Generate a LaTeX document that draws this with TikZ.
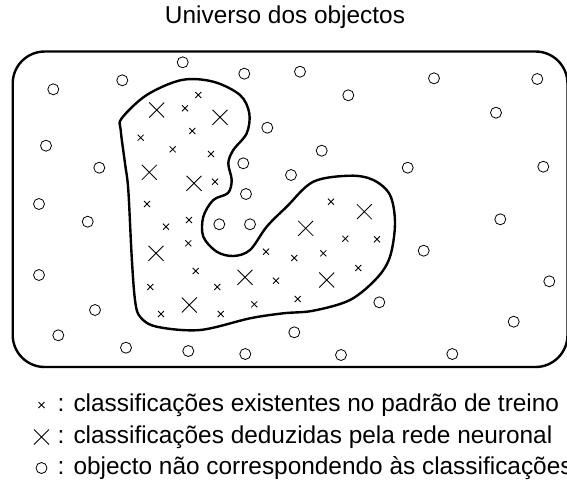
\documentclass[tikz,border=0pt]{standalone}
\usepackage{fontspec}
\setmainfont{Liberation Sans}
\usetikzlibrary{positioning}
\tikzset{every picture/.style={
  line join=round                % Smooth joins on the outlines.
  }
}

\begin{document}
\begin{tikzpicture}[
    x=1pt,y=-1pt,
    universe/.style={
      draw,
      line width=2.4pt,
      rounded corners=32pt
    },
    region/.style={
      draw,
      line width=2.4pt
    },
    objmk/.style={draw,line width=0.8pt},
    crossmk/.style={draw,line width=0.8pt},
    lbl/.style={
      font=\fontsize{24.4}{28}\selectfont,
      inner sep=0pt
    }]

    % Helper macros.
    \def\objmark#1{ \draw[objmk] (#1) circle (5.5pt) }
    \def\trainmark#1{ \draw[crossmk] (#1) +(-3pt,-3pt) -- +(3pt,3pt)
        +(-3pt,3pt) -- +(3pt,-3pt) }
    \def\netmark#1{ \draw[crossmk] (#1) +(-7.5pt,-7.5pt) -- +(7.5pt,7.5pt)
        +(-7.5pt,7.5pt) -- +(7.5pt,-7.5pt) }

    \useasboundingbox (0,0) rectangle (567,493);

    % Draw the universe of objects.
    \node[lbl] (title) at (285,17) {Universo dos objectos};
    \draw[universe] (12.7,51.5) rectangle (567.5,367);

    % Draw the region of the classifications.
    \draw[region] plot[smooth cycle,tension=0.55] coordinates {
      (121.7,118.3) (146.7,95) (181.7,80) (213.3,81.7) (240,95)
      (249.3,113.3) (246.7,133.3) (233.3,150) (228.3,163.3) (231.7,180)
      (228,193) (213.3,200) (203.3,216.7) (203.3,236.7) (216.7,251.7)
      (233.3,256) (250,250) (266.7,226.7) (286.7,206.7) (313.3,181.7)
      (350,175.7) (373.3,180) (390,195) (395,223.3) (390,256.7)
      (376.7,278.3) (350,300) (313.3,310.7) (283.3,313.3) (250,318.3)
      (200,330) (156.7,326.7) (140,316.7) (135,300) (131.7,256.7)
      (128.3,190) (125,163.3) (120.7,130)};

    % Objects outside the classifications.
    \foreach \x/\y in {53.3/89.3,122.3/80.3,182.7/62.3,244.3/73.7,
        46/145.7,99.3/167.7,267.3/127.7,243.3/163.3,246/194,
        291/175,300/71.7,348.3/95.3,434/78.3,537.3/79,
        496/112.7,321.7/150.7,407.7/167.7,543.3/166.7,
        39/204,87.7/221.7,219.3/224.3,250/224.3,39/275,
        95/310,58.3/335.3,126/347.7,188.3/351,245.3/354,
        294.3/332.3,500.3/219.3,423.7/250.7,549.3/281.3,
        379.3/302.3,513.7/321.7,341/355,452.3/354}
      {\objmark{\x,\y};}

    % Classifications of the training set.
    \foreach \x/\y in {198.3/95,185/108.3,140.7/137.7,192.3/131,
        172.7/149.3,211/154,215/181.7,147/204,166/226.7,
        189/220,188.3/243.3,195.7/271,150.3/287,217.3/287,
        161/314,220.7/314,254.3/304.3,266/251.7,276/280.7,
        331/201.7,345.3/238.7,377/239.3,294.3/258,323.3/253.3,
        358.3/268,297.7/299}
      {\trainmark{\x,\y};}

    % Classifications deduced by the network.
    \foreach \x/\y in {156.7/110,220/117.3,149.3/172.3,194/183.3,
        156/253.3,245/277.3,189.3/305,364.3/211.7,305.7/228.3,
        326.7/280}
      {\netmark{\x,\y};}

    % Draw the legend.
    \coordinate (symtrain) at (41.5,405);
    \coordinate (symnet) at (41.5,437);
    \coordinate (symobj) at (41.5,468);
    \trainmark{symtrain};
    \netmark{symnet};
    \objmark{symobj};
    \node[lbl,right=16pt of symtrain] (legtrain)
      {: classificações existentes no padrão de treino};
    \node[lbl,right=16pt of symnet] (legnet)
      {: classificações deduzidas pela rede neuronal};
    \node[lbl,right=16pt of symobj] (legobj)
      {: objecto não correspondendo às classificações};

  \end{tikzpicture}
\end{document}
